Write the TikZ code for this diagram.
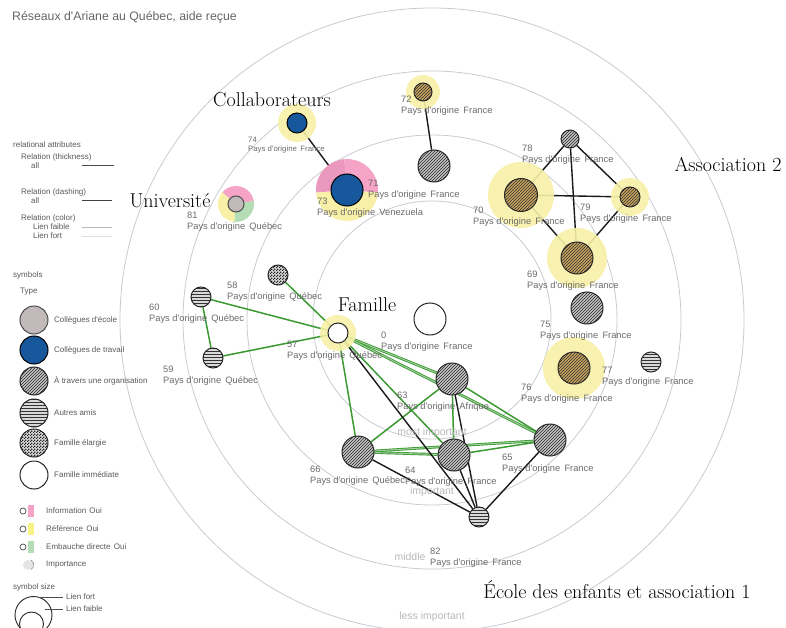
\documentclass[tikz,border=0pt]{standalone}
\usepackage{fontspec}
\newfontfamily\lab{Liberation Sans}
\usetikzlibrary{patterns}
\pgfdeclarelayer{rings}
\pgfdeclarelayer{edges}
\pgfdeclarelayer{halos}
\pgfsetlayers{rings,edges,halos,main}
\pgfdeclarepatternformonly{finecheck}{\pgfqpoint{0pt}{0pt}}{\pgfqpoint{3pt}{3pt}}{\pgfqpoint{3pt}{3pt}}{%
  \pgfpathrectangle{\pgfqpoint{0pt}{0pt}}{\pgfqpoint{1.5pt}{1.5pt}}%
  \pgfpathrectangle{\pgfqpoint{1.5pt}{1.5pt}}{\pgfqpoint{1.5pt}{1.5pt}}%
  \pgfusepath{fill}}
\definecolor{ringc}{HTML}{C9CAD3}
\definecolor{edgeg}{HTML}{3C9A33}
\definecolor{wblue}{HTML}{17589C}
\definecolor{tanc}{HTML}{C8A35E}
\definecolor{haloc}{HTML}{F7F0A6}
\definecolor{pinkh}{HTML}{F5A3C7}
\definecolor{pinkd}{HTML}{E57FAE}
\definecolor{greenh}{HTML}{B5DDB5}
\definecolor{labc}{HTML}{6A6A6A}
\definecolor{speck}{HTML}{C2BABA}
\newcommand{\mkLab}[4]{\node[nlab] (#1) at (#2) {#3\\Pays d'origine\hspace{0.45em}#4};}
\begin{document}
\begin{tikzpicture}[x=1pt,y=-1pt,
  base/.style={circle, draw=black!85, line width=1pt, inner sep=0pt},
  hg/.style={base, preaction={fill=gray!45}, pattern=north east lines, pattern color=black!85},
  hb/.style={base, preaction={fill=tanc}, pattern=north east lines, pattern color=black!80},
  hs/.style={base, preaction={fill=gray!30}, pattern=horizontal lines, pattern color=black!80},
  hc/.style={base, preaction={fill=gray!30}, pattern=finecheck, pattern color=black!85},
  bl/.style={base, fill=wblue, draw=black},
  wh/.style={base, fill=white, draw=black!85},
  sp/.style={base, fill=speck, draw=black!70},
  blk/.style={draw=black!90, line width=1.4pt},
  grn/.style={draw=edgeg, line width=1.5pt},
  grn2/.style={draw=edgeg, line width=0.9pt, double=edgeg!45, double distance=0.9pt},
  nlab/.style={anchor=north west, align=left, font={\lab\fontsize{9.3}{10.5}\selectfont}, text=labc, inner sep=0pt},
  big/.style={font={\fontsize{20}{24}\selectfont}, text=black, inner sep=0pt},
  ringlab/.style={font={\lab\fontsize{10.5}{12}\selectfont}, text=black!28, inner sep=0pt},
  leg/.style={anchor=west, font={\lab\fontsize{8}{9.5}\selectfont}, text=black!65, inner sep=0pt},
  ring/.style={draw=ringc, line width=0.8pt},
  halo/.style={fill=haloc, fill opacity=0.9}
]
\useasboundingbox (0,0) rectangle (786,628);
\coordinate (ctr) at (432,320);

% rings
\begin{pgfonlayer}{rings}
\draw[ring] (ctr) circle[radius=119pt];
\draw[ring] (ctr) circle[radius=185pt];
\draw[ring] (ctr) circle[radius=249pt];
\draw[ring] (ctr) circle[radius=312pt];
\end{pgfonlayer}

% nodes
\node[hb, minimum size=18pt] (n72) at (423,92) {};
\node[hg, minimum size=32pt] (n71) at (434,166) {};
\node[bl, minimum size=20pt] (n74) at (297,123) {};
\node[bl, minimum size=32pt] (n73) at (347,190) {};
\node[sp, minimum size=16pt] (n81) at (236,204) {};
\node[hg, minimum size=18pt] (n78) at (570,139) {};
\node[hb, minimum size=33pt] (n70) at (521,195) {};
\node[hb, minimum size=20pt] (n79) at (630,197) {};
\node[hb, minimum size=32pt] (n69) at (577,258) {};
\node[hg, minimum size=32pt] (n75) at (587,308) {};
\node[hb, minimum size=32pt] (n76) at (574,368) {};
\node[hs, minimum size=20pt] (n77) at (651,362) {};
\node[hc, minimum size=20pt] (n58) at (278,275) {};
\node[hs, minimum size=20pt] (n60) at (201,297) {};
\node[hs, minimum size=20pt] (n59) at (213,358) {};
\node[wh, minimum size=20pt] (n57) at (338,333) {};
\node[wh, minimum size=32pt] (n0) at (430,319) {};
\node[hg, minimum size=32pt] (n63) at (452,379) {};
\node[hg, minimum size=32pt] (n66) at (358,452) {};
\node[hg, minimum size=32pt] (n64) at (454,455) {};
\node[hg, minimum size=32pt] (n65) at (550,440) {};
\node[hs, minimum size=20pt] (n82) at (479,517) {};

% halos
\begin{pgfonlayer}{halos}
\fill[halo] (n72.center) circle[radius=17pt];
\fill[halo] (n74.center) circle[radius=19pt];
\fill[halo] (n70.center) circle[radius=33pt];
\fill[halo] (n79.center) circle[radius=19pt];
\fill[halo] (n69.center) circle[radius=30pt];
\fill[halo] (n76.center) circle[radius=31pt];
\fill[halo] (n57.center) circle[radius=18pt];
% pie halo 73
\fill[pinkh] (n73.center) -- ++(-5:31pt) arc[start angle=-5, end angle=95, radius=31pt] -- cycle;
\fill[pinkd!80] (n73.center) -- ++(95:31pt) arc[start angle=95, end angle=185, radius=31pt] -- cycle;
\fill[haloc] (n73.center) -- ++(185:31pt) arc[start angle=185, end angle=355, radius=31pt] -- cycle;
% pie halo 81
\fill[pinkh] (n81.center) -- ++(10:18pt) arc[start angle=10, end angle=140, radius=18pt] -- cycle;
\fill[haloc] (n81.center) -- ++(140:18pt) arc[start angle=140, end angle=265, radius=18pt] -- cycle;
\fill[greenh] (n81.center) -- ++(265:18pt) arc[start angle=265, end angle=370, radius=18pt] -- cycle;
\end{pgfonlayer}

% edges
\begin{pgfonlayer}{edges}
\draw[blk] (n72) -- (n71);
\draw[blk] (n74) -- (n73);
\draw[blk] (n78) -- (n70);
\draw[blk] (n78) -- (n69);
\draw[blk] (n78) -- (n79);
\draw[blk] (n70) -- (n79);
\draw[blk] (n70) -- (n69);
\draw[blk] (n79) -- (n69);
\draw[grn] (n57) -- (n58);
\draw[grn] (n57) -- (n60);
\draw[grn] (n60) -- (n59);
\draw[grn] (n59) -- (n57);
\draw[grn] (n57) -- (n66);
\draw[grn] (n57) -- (n64);
\draw[grn2] (n57) -- (n63);
\draw[grn2] (n57) -- (n65);
\draw[grn2] (n66) -- (n64);
\draw[grn2] (n66) -- (n65);
\draw[grn] (n66) -- (n63);
\draw[grn] (n63) -- (n64);
\draw[grn] (n63) -- (n65);
\draw[grn] (n64) -- (n65);
\draw[blk] (n57) -- (n82);
\draw[blk] (n66) -- (n82);
\draw[blk] (n63) -- (n82);
\draw[blk] (n64) -- (n82);
\draw[blk] (n65) -- (n82);
\end{pgfonlayer}

% node labels
\mkLab{l72}{401,96}{72}{France}
\node[nlab, font={\lab\fontsize{7.8}{9}\selectfont}] (l74) at (248,137) {74\\Pays d'origine\hspace{0.45em}France};
\mkLab{l71}{368,180}{71}{France}
\mkLab{l73}{317,198}{73}{Venezuela}
\mkLab{l81}{187,212}{81}{Québec}
\mkLab{l78}{522,145}{78}{France}
\mkLab{l70}{473,207}{70}{France}
\mkLab{l79}{580,204}{79}{France}
\mkLab{l69}{527,271}{69}{France}
\mkLab{l75}{540,321}{75}{France}
\mkLab{l76}{521,384}{76}{France}
\mkLab{l77}{602,367}{77}{France}
\mkLab{l0}{381,332}{0}{France}
\mkLab{l57}{287,341}{57}{Québec}
\mkLab{l58}{227,282}{58}{Québec}
\mkLab{l60}{149,304}{60}{Québec}
\mkLab{l59}{163,366}{59}{Québec}
\mkLab{l63}{397,392}{63}{Afrique}
\mkLab{l66}{310,466}{66}{Québec}
\mkLab{l64}{405,467}{64}{France}
\mkLab{l65}{502,454}{65}{France}
\mkLab{l82}{430,548}{82}{France}

% group labels
\node[big] (tc) at (272,100) {Collaborateurs};
\node[big] (tu) at (170,201) {Université};
\node[big] (ta) at (728,165) {Association 2};
\node[big] (tf) at (367,305) {Famille};
\node[big] (te) at (617,590) {École des enfants et association 1};

% ring labels
\node[ringlab] (r1) at (432,433) {most important};
\node[ringlab] (r2) at (432,492) {important};
\node[ringlab] (r3) at (410,557) {middle};
\node[ringlab] (r4) at (432,617) {less important};

% title
\node[anchor=west, font={\lab\fontsize{12.3}{14}\selectfont}, text=black!60, inner sep=0pt] (title) at (12,17) {Réseaux d'Ariane au Québec, aide reçue};

% legend: relational attributes
\node[leg] (g1) at (13,145) {relational attributes};
\node[leg] (g2) at (21,157) {Relation (thickness)};
\node[leg] (g3) at (31,166) {all};
\draw[black!70, line width=0.8pt] (82,165) -- (114,165);
\node[leg] (g4) at (21,192) {Relation (dashing)};
\node[leg] (g5) at (31,201) {all};
\draw[black!75, line width=1pt] (82,201) -- (112,201);
\node[leg] (g6) at (21,218) {Relation (color)};
\node[leg] (g7) at (33,227) {Lien faible};
\draw[gray!55, line width=0.6pt] (82,227) -- (112,227);
\node[leg] (g8) at (33,236) {Lien fort};
\draw[gray!25, line width=0.6pt] (82,236) -- (112,236);

% legend: symbols
\node[leg] (s0) at (13,275) {symbols};
\node[leg] (s00) at (20,292) {Type};
\node[sp, minimum size=28pt] (k1) at (34,320) {};
\node[leg] (t1) at (54,320) {Collègues d'école};
\node[bl, minimum size=28pt] (k2) at (34,350) {};
\node[leg] (t2) at (54,350) {Collègues de travail};
\node[hg, minimum size=28pt] (k3) at (34,381) {};
\node[leg] (t3) at (54,381) {À travers une organisation};
\node[hs, minimum size=28pt] (k4) at (34,413) {};
\node[leg] (t4) at (54,413) {Autres amis};
\node[hc, minimum size=28pt] (k5) at (34,443) {};
\node[leg] (t5) at (54,443) {Famille élargie};
\node[wh, minimum size=28pt] (k6) at (34,475) {};
\node[leg] (t6) at (54,475) {Famille immédiate};

% small attribute icons
\fill[pinkh] (28,505) rectangle (34,517);
\draw[black!70, line width=0.7pt] (23,511) circle[radius=3pt];
\node[leg] (i1) at (46,511) {Information\hspace{0.4em}Oui};
\fill[haloc!80!yellow] (28,523) rectangle (34,535);
\draw[black!70, line width=0.7pt] (23,529) circle[radius=3pt];
\node[leg] (i2) at (46,529) {Référence\hspace{0.4em}Oui};
\fill[greenh] (28,541) rectangle (34,553);
\draw[black!70, line width=0.7pt] (23,547) circle[radius=3pt];
\node[leg] (i3) at (46,547) {Embauche directe\hspace{0.4em}Oui};
\fill[gray!20] (28,565) circle[radius=5pt];
\draw[black!50, line width=0.6pt] (31,560) arc[start angle=60, end angle=-60, radius=5.5pt];
\node[leg] (i4) at (46,565) {Importance};

% symbol size
\node[leg] (ss) at (13,587) {symbol size};
\draw[black!85, line width=0.9pt] (33.5,615) circle[radius=18.5pt];
\draw[black!85, line width=0.9pt] (31.5,624) circle[radius=12pt];
\draw[black!70, line width=0.5pt] (38,597) -- (63,597);
\draw[black!70, line width=0.5pt] (45,609) -- (63,609);
\node[leg] (z1) at (66,597) {Lien fort};
\node[leg] (z2) at (66,609) {Lien faible};
\end{tikzpicture}
\end{document}
